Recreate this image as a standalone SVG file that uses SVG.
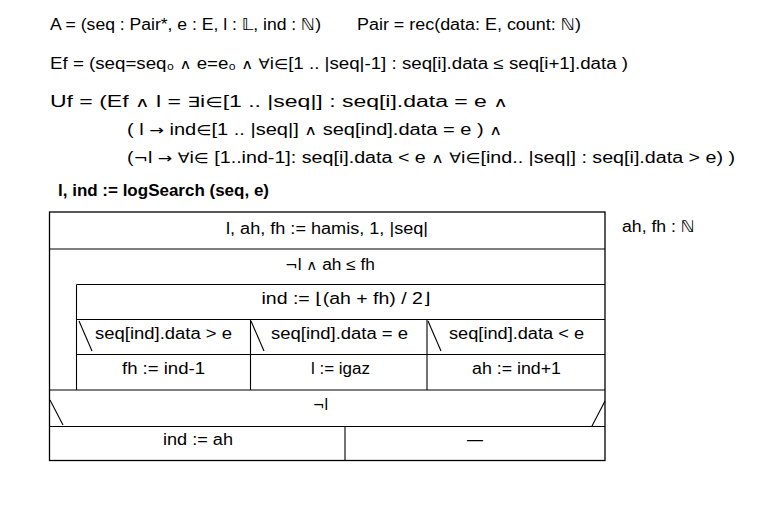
<svg xmlns="http://www.w3.org/2000/svg" width="767" height="507" viewBox="0 0 767 507" xml:space="preserve">
<style>
text{font-family:"Liberation Sans","DejaVu Sans",sans-serif;font-size:16px;fill:#000}
.s{font-family:"DejaVu Sans",sans-serif;font-size:14px}
.m{text-anchor:middle}
.b{font-weight:bold}
.box{fill:none;stroke:#000;stroke-width:1.3}
.ln{stroke:#000;stroke-width:1.1;fill:none}
</style>
<rect width="767" height="507" fill="#fff"/>
<g id="spec">
<text x="50" y="30" textLength="271" lengthAdjust="spacingAndGlyphs">A = (seq : Pair*, e : E, l : 𝕃, ind : ℕ)</text>
<text x="357" y="30" textLength="224" lengthAdjust="spacingAndGlyphs">Pair = rec(data: E, count: ℕ)</text>
<text x="50" y="69" textLength="578" lengthAdjust="spacingAndGlyphs">Ef = (seq=seq₀  <tspan class="s">∧</tspan>  e=e₀  <tspan class="s">∧</tspan>  <tspan class="s">∀</tspan>i<tspan class="s">∈</tspan>[1 .. |seq|-1] : seq[i].data ≤ seq[i+1].data )</text>
<text x="50" y="107" textLength="458" lengthAdjust="spacingAndGlyphs">Uf = (Ef  <tspan class="s">∧</tspan>  l =  <tspan class="s">∃</tspan>i<tspan class="s">∈</tspan>[1 .. |seq|] : seq[i].data = e <tspan class="s">∧</tspan></text>
<text x="127" y="135" textLength="375" lengthAdjust="spacingAndGlyphs">(   l <tspan class="s">→</tspan>  ind<tspan class="s">∈</tspan>[1 .. |seq|]  <tspan class="s">∧</tspan>  seq[ind].data = e ) <tspan class="s">∧</tspan></text>
<text x="127" y="163" textLength="608" lengthAdjust="spacingAndGlyphs">(<tspan class="s">¬</tspan>l  <tspan class="s">→</tspan>  <tspan class="s">∀</tspan>i<tspan class="s">∈</tspan> [1..ind-1]: seq[i].data &lt; e  <tspan class="s">∧</tspan>  <tspan class="s">∀</tspan>i<tspan class="s">∈</tspan>[ind.. |seq|] : seq[i].data &gt; e)  )</text>
<text class="b" x="58" y="196" textLength="211" lengthAdjust="spacingAndGlyphs">l, ind := logSearch (seq, e)</text>
<text x="622" y="232" textLength="73" lengthAdjust="spacingAndGlyphs">ah, fh : ℕ</text>
</g>
<g id="outer"><rect class="box" x="49.5" y="212" width="555.5" height="248.5"/></g>
<g id="init"><line class="ln" x1="49.5" y1="249" x2="605" y2="249"/>
<text class="m" x="327" y="234" textLength="202" lengthAdjust="spacingAndGlyphs">l, ah, fh := hamis, 1, |seq|</text></g>
<g id="loop"><line class="ln" x1="76.5" y1="284.5" x2="605" y2="284.5"/><line class="ln" x1="76.5" y1="284.5" x2="76.5" y2="390"/>
<text class="m" x="330" y="270" textLength="90" lengthAdjust="spacingAndGlyphs"><tspan class="s">¬</tspan>l <tspan class="s">∧</tspan> ah ≤ fh</text></g>
<g id="mid"><line class="ln" x1="76.5" y1="319.5" x2="605" y2="319.5"/>
<text class="m" x="346" y="304" textLength="169" lengthAdjust="spacingAndGlyphs">ind := ⌊(ah + fh) / 2⌋</text></g>
<g id="branch1"><text class="m" x="163.5" y="339" textLength="137" lengthAdjust="spacingAndGlyphs">seq[ind].data &gt; e</text>
<text class="m" x="163.5" y="374" textLength="83" lengthAdjust="spacingAndGlyphs">fh := ind-1</text></g>
<g id="branch2"><text class="m" x="339.5" y="339" textLength="137" lengthAdjust="spacingAndGlyphs">seq[ind].data = e</text>
<text class="m" x="340.5" y="374" textLength="59" lengthAdjust="spacingAndGlyphs">l := igaz</text></g>
<g id="branch3"><text class="m" x="516.5" y="339" textLength="135" lengthAdjust="spacingAndGlyphs">seq[ind].data &lt; e</text>
<text class="m" x="516.5" y="374" textLength="89" lengthAdjust="spacingAndGlyphs">ah := ind+1</text></g>
<g id="cond"><text class="m" x="320.5" y="410"><tspan class="s">¬</tspan>l</text></g>
<g id="then"><text class="m" x="198" y="445" textLength="70" lengthAdjust="spacingAndGlyphs">ind := ah</text></g>
<g id="else"><text class="m" x="475" y="445">—</text></g>
<g id="connectors">
<line class="ln" x1="76.5" y1="354.5" x2="605" y2="354.5"/>
<line class="ln" x1="250.5" y1="319.5" x2="250.5" y2="390"/>
<line class="ln" x1="427" y1="319.5" x2="427" y2="390"/>
<line class="ln" x1="49.5" y1="390" x2="605" y2="390"/>
<line class="ln" x1="49.5" y1="426.5" x2="605" y2="426.5"/>
<line class="ln" x1="345" y1="426.5" x2="345" y2="460.5"/>
<line class="ln" x1="79" y1="321" x2="92" y2="351"/>
<line class="ln" x1="251" y1="321" x2="264" y2="351"/>
<line class="ln" x1="428" y1="321" x2="441" y2="351"/>
<line class="ln" x1="50" y1="400" x2="63" y2="425"/>
<line class="ln" x1="605" y1="401" x2="592" y2="426"/>
</g>
</svg>
